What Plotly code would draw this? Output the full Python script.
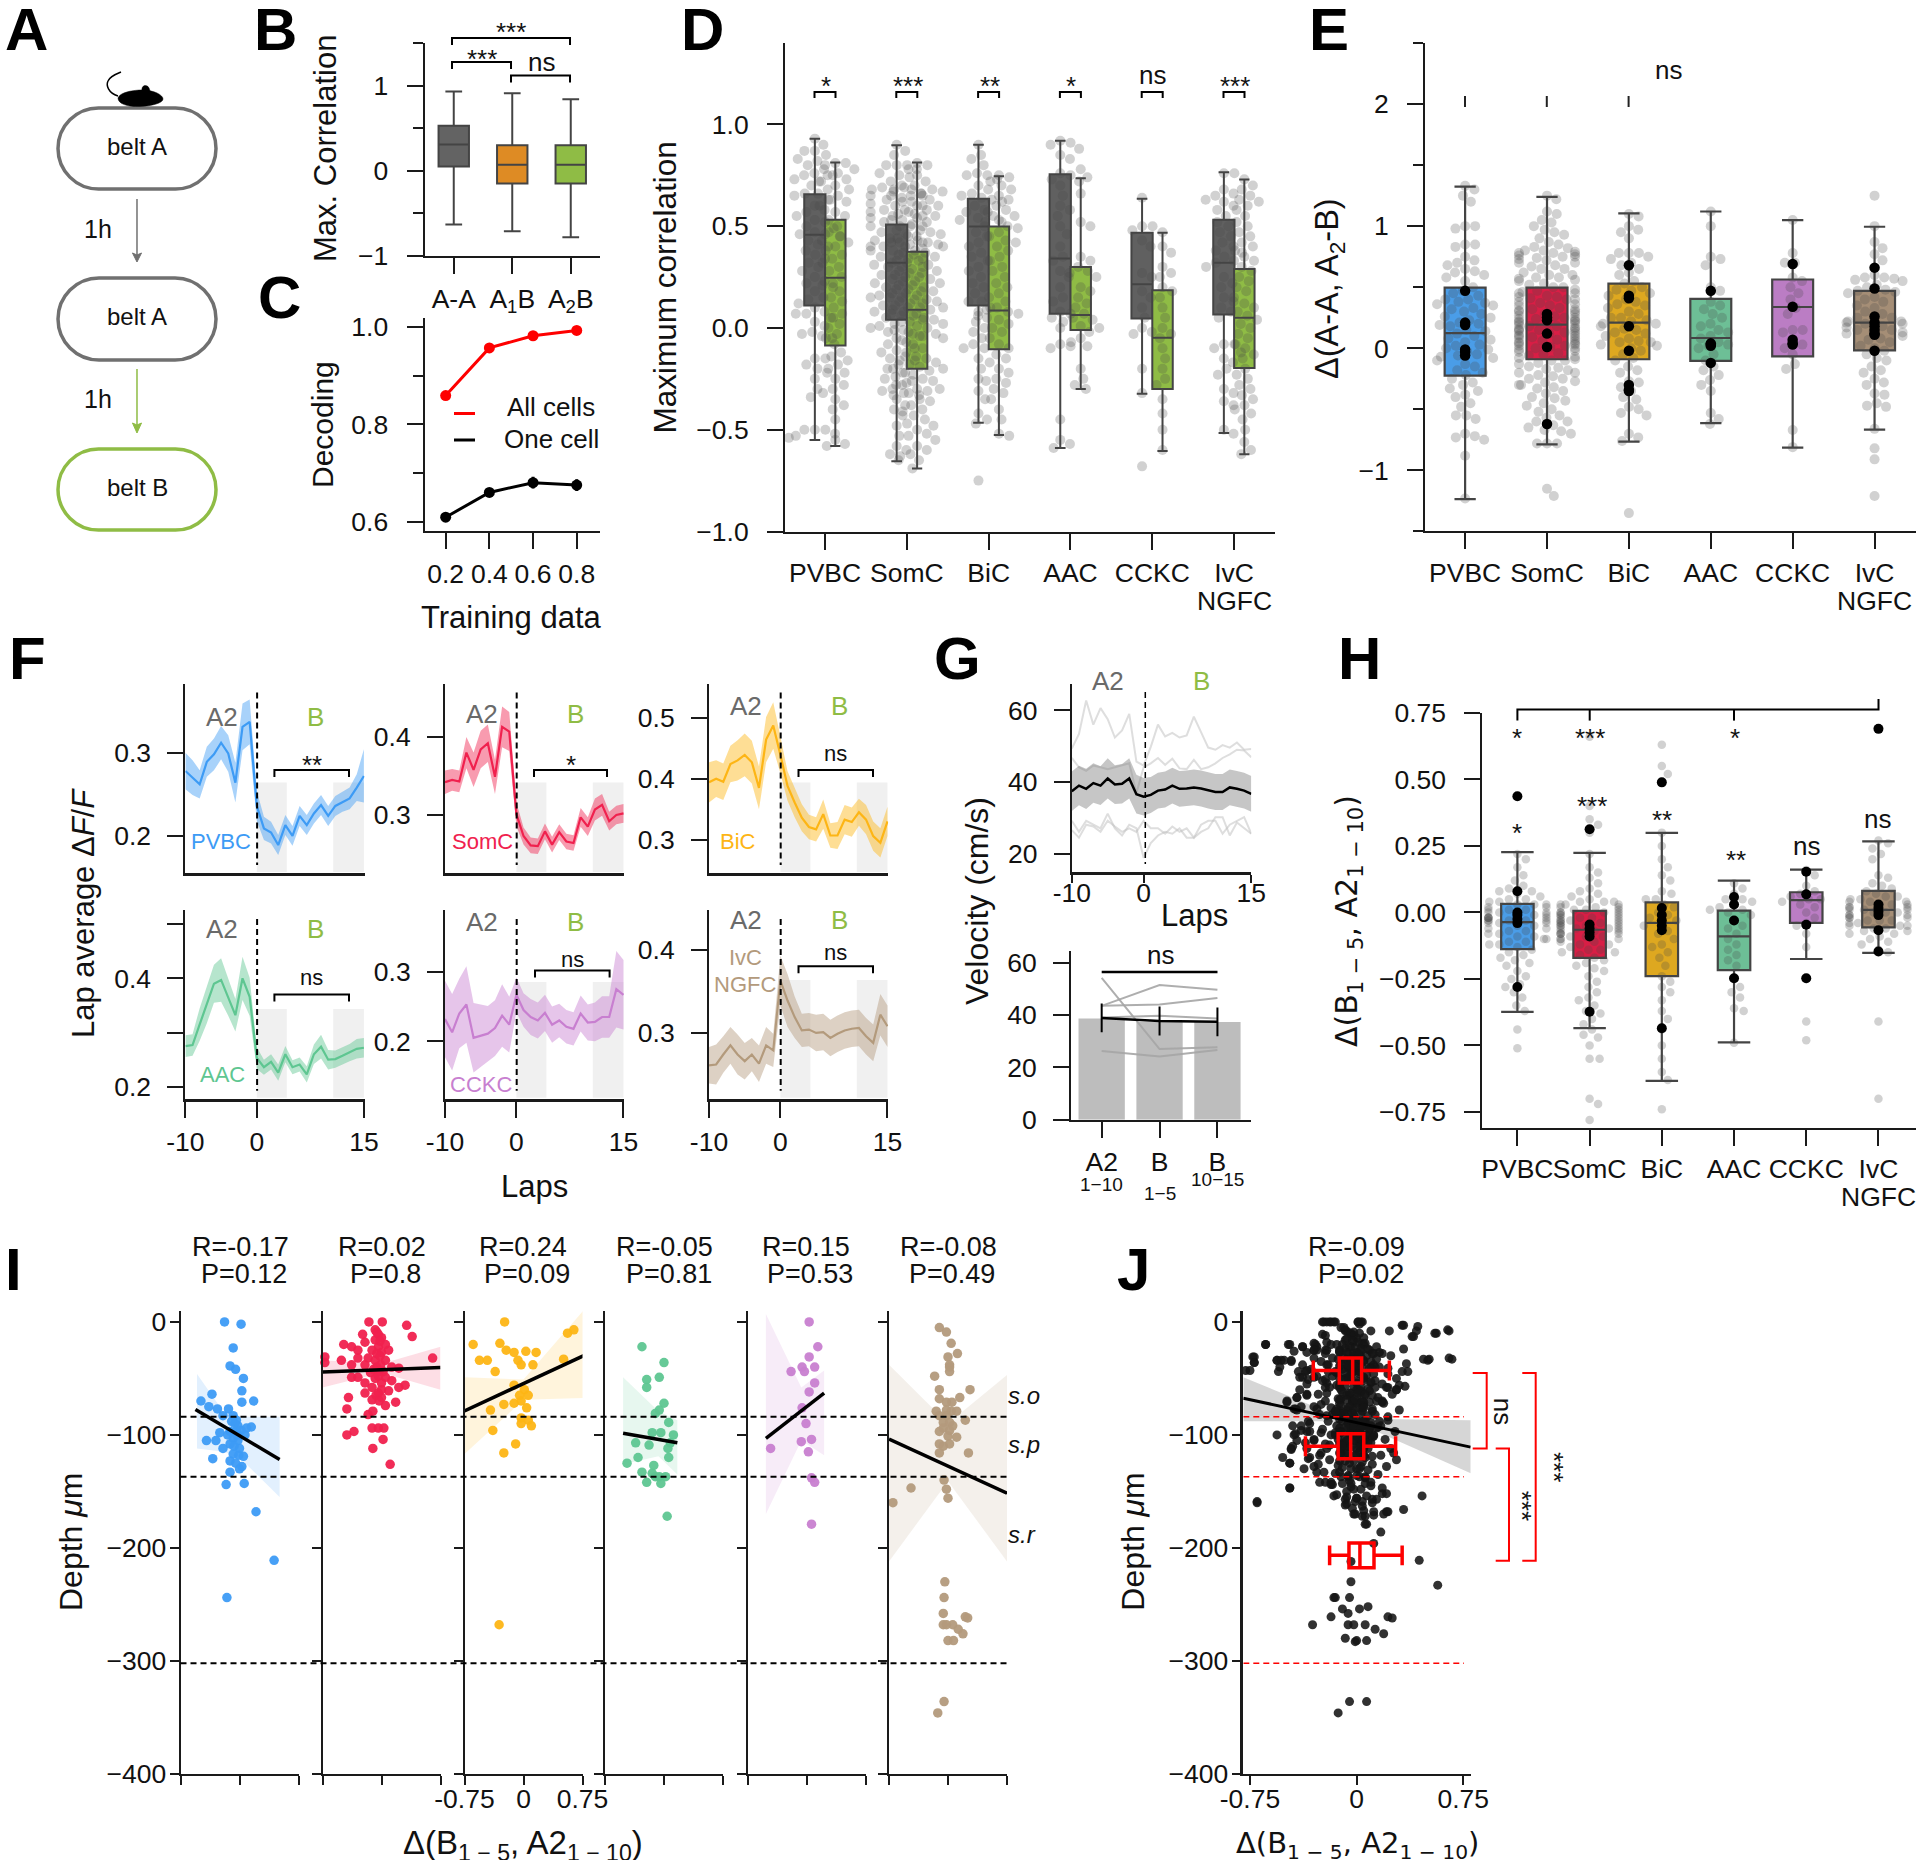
import re
import plotly.graph_objects as go

W, H = 1920, 1860
FONT = "Liberation Sans"
CELLS = ["PVBC", "SomC", "BiC", "AAC", "CCKC", "IvC"]
COL = ["#4a9de8", "#d81e45", "#dea820", "#6dbf96", "#bb7dc4", "#a58e76"]
LINE = ["#3d9bf5", "#f0214e", "#fdb515", "#5ec691", "#c87fd0", "#b39a7c"]
RGB = ["61,155,245", "240,33,78", "253,181,21", "94,198,145", "200,127,208", "179,154,124"]
GREY = "#6a6a6a"
GREEN = "#8fbc45"

# ---- B
B_CATS = ["A-A", "A<sub>1</sub>B", "A<sub>2</sub>B"]
B_STATS = [[-.63, .05, .31, .53, .93], [-.71, -.15, .07, .30, .91], [-.78, -.15, .07, .30, .84]]
B_COLS = ["#636363", "#de8b24", "#8fbc45"]
# ---- C
C_X = [.2, .4, .6, .8]
C_ALL = [.859, .957, .982, .993]
C_ONE = [.609, .660, .680, .675]
C_ONE_ERR = [.008, .009, .012, .012]
# ---- D (hundredths)
D_STATS_A = [[-.55, .11, .458, .657, .93], [-.655, .04, .32, .508, .898], [-.466, .11, .498, .635, .90],
             [-.59, .07, .341, .755, .92], [-.323, .046, .215, .468, .635], [-.516, .066, .32, .532, .765]]
D_STATS_B = [[-.58, -.086, .247, .532, .813], [-.69, -.2, .09, .375, .813], [-.526, -.104, .086, .498, .745],
             [-.30, -.01, .064, .30, .735], [-.604, -.30, -.048, .185, .468], [-.62, -.197, .05, .29, .729]]
D_PVBC_A = [93,90,87,87,85,83,82,80,78,76,75,75,73,72,70,68,66,66,65,63,60,58,57,55,53,52,50,49,47,46,46,45,43,41,40,38,36,34,32,30,28,25,23,22,20,18,15,14,12,10,8,7,7,5,3,1,-2,-3,-4,-5,-15,-15,-18,-20,-22,-25,-30,-34,-50,-50,-52,-53,-54,-50]
D_PVBC_B = [81,81,80,78,76,75,73,72,70,68,65,63,62,60,57,55,53,50,47,45,43,42,40,38,36,34,32,30,28,25,22,21,18,15,13,10,7,5,2,0,-3,-5,-8,-12,-14,-16,-18,-20,-22,-25,-28,-30,-32,-35,-38,-40,-45,-58,-57,-55]
D_SOMC_A = [90,87,85,80,80,80,78,76,75,74,72,70,69,68,68,67,66,65,65,64,63,62,61,60,60,58,58,57,56,55,55,54,53,52,51,50,50,48,47,46,45,44,43,42,42,41,40,40,39,38,38,37,36,35,34,33,32,31,30,30,28,27,26,25,24,23,22,21,20,19,18,17,16,15,15,14,13,12,11,10,9,8,7,6,5,4,3,2,1,0,-1,-2,-3,-4,-5,-7,-8,-10,-11,-12,-14,-15,-16,-18,-20,-22,-24,-25,-26,-28,-30,-31,-32,-33,-35,-38,-40,-43,-48,-53,-58,-60,-62,-65]
D_SOMC_B = [81,80,78,75,72,70,69,68,68,67,66,65,65,63,62,60,60,58,57,56,55,54,53,52,50,50,48,47,46,45,44,43,42,42,41,40,40,38,37,36,35,34,33,32,31,30,29,28,27,26,25,24,23,22,21,20,19,18,17,16,15,14,13,12,11,10,10,9,8,7,6,5,4,3,2,1,0,-1,-2,-3,-4,-5,-6,-8,-10,-12,-14,-15,-16,-17,-18,-19,-20,-20,-21,-22,-23,-25,-26,-27,-28,-30,-30,-31,-32,-33,-35,-36,-38,-40,-41,-43,-45,-47,-48,-50,-52,-53,-55,-58,-60,-62,-63,-65,-69]
D_BIC_A = [90,85,83,80,76,75,75,73,70,68,66,65,64,63,62,60,58,57,55,54,53,52,50,47,45,42,40,37,35,33,30,28,25,22,20,17,13,13,10,8,5,3,0,-2,-5,-8,-10,-10,-15,-20,-25,-31,-35,-42,-45,-47,-75]
D_BIC_B = [75,74,72,70,68,65,63,60,58,57,55,53,52,50,49,47,45,43,42,40,38,35,33,30,28,25,22,20,17,15,13,10,9,8,7,6,4,2,0,-2,-5,-8,-10,-13,-15,-17,-20,-22,-25,-26,-27,-30,-32,-35,-40,-45,-52,-53]
D_AAC_A = [92,91,90,88,85,83,76,75,73,72,70,65,60,58,55,50,46,40,35,33,28,25,20,15,13,8,7,5,0,-8,-9,-10,-45,-55,-57,-59]
D_AAC_B = [78,74,66,52,50,35,33,30,28,27,25,20,18,15,12,10,7,5,4,3,1,0,-2,-5,-7,-9,-20,-25,-28,-30]
D_CCKC_A = [64,50,50,48,43,40,27,25,18,15,10,5,0,-2,-3,-20,-32,-68]
D_CCKC_B = [47,40,37,30,27,25,20,18,15,10,5,0,-3,-5,-10,-15,-20,-25,-28,-35,-42,-50,-60]
D_IVC_A = [76,76,68,66,65,63,62,60,58,55,52,50,47,45,42,40,38,37,35,33,32,30,25,22,20,15,13,10,8,5,-8,-8,-10,-12,-15,-20,-23,-30,-32,-36,-38,-50,-52]
D_IVC_B = [73,70,68,65,63,62,60,58,55,52,50,47,45,42,40,38,35,33,30,28,25,23,20,18,15,12,10,8,6,4,2,0,-3,-5,-8,-10,-13,-15,-17,-20,-23,-25,-28,-30,-33,-35,-38,-40,-42,-45,-50,-56,-60,-62]
D_SIG = ["*", "***", "**", "*", "ns", "***"]
# ---- E
E_STATS = [[-1.236, -.224, .124, .496, 1.323], [-.787, -.09, .194, .496, 1.24], [-.764, -.09, .21, .53, 1.105],
           [-.613, -.104, .084, .405, 1.12], [-.814, -.067, .338, .563, 1.05], [-.667, -.017, .21, .47, .995]]
E_PVBC = [133,130,125,120,100,100,98,85,85,83,75,72,70,68,65,63,62,60,58,55,50,47,45,43,40,40,38,37,36,35,33,32,30,28,26,25,23,21,20,19,18,15,14,12,10,8,7,5,3,2,0,-1,-3,-5,-6,-7,-8,-10,-13,-15,-18,-20,-22,-25,-28,-30,-33,-35,-38,-40,-45,-48,-55,-55,-58,-70,-72,-73,-75,-88,-123]
E_SOMC = [125,122,112,110,105,103,100,97,95,93,90,87,85,83,82,80,80,79,78,78,77,76,75,75,74,73,72,70,70,68,67,65,65,62,60,60,58,58,57,56,55,53,52,50,50,48,47,46,45,45,43,42,42,41,40,40,38,37,36,35,35,33,32,32,31,30,30,28,28,27,26,25,25,24,24,23,22,22,21,20,20,19,18,18,17,16,16,15,15,14,14,13,12,12,11,10,10,9,8,8,7,6,6,5,4,4,3,2,2,1,0,0,-1,-2,-3,-4,-5,-6,-7,-8,-9,-10,-10,-12,-13,-15,-16,-17,-18,-20,-20,-22,-23,-25,-25,-27,-28,-30,-30,-32,-33,-35,-37,-40,-41,-43,-45,-47,-50,-52,-55,-57,-60,-60,-63,-65,-67,-68,-70,-78,-78,-78,-115,-121]
E_BIC = [110,108,100,97,95,90,78,78,78,75,73,70,68,65,62,60,55,53,50,48,47,45,43,40,38,36,35,33,30,28,25,25,23,22,20,20,18,16,15,13,12,10,8,6,5,5,3,2,0,-2,-5,-8,-10,-15,-18,-20,-27,-28,-32,-35,-40,-42,-48,-50,-53,-55,-70,-73,-76,-135]
E_AAC = [112,100,75,73,68,50,47,38,35,32,28,25,20,18,15,13,10,8,5,3,2,0,-5,-10,-15,-18,-22,-26,-30,-35,-53,-58,-62]
E_CCKC = [105,78,70,70,58,55,50,45,40,33,28,15,13,15,5,3,0,-5,-13,-17,-67,-81]
E_IVC = [125,100,87,82,77,72,60,58,58,57,56,55,52,50,48,47,46,45,42,40,38,35,33,30,28,25,25,23,22,22,21,20,20,18,17,15,15,14,13,12,10,8,7,5,2,0,-2,-5,-8,-10,-15,-18,-20,-25,-28,-30,-37,-38,-45,-47,-48,-66,-82,-91,-121]
E_BLACK = [[.47,.21,.19,-.01,-.03,-.06], [.28,.25,.23,.12,.01,-.62], [.68,.43,.41,.18,-.02,-.30,-.34,-.35],
           [.47,.04,.03,.02,-.12], [.69,.34,.07,.04,.03], [.66,.49,.26,.21,.18,.15,.12,.11,-.02]]
# ---- F
LAPS = list(range(-10, 16))
F_MEAN = [
 [.278,.270,.262,.289,.298,.312,.299,.264,.331,.337,.236,.209,.204,.189,.213,.200,.224,.213,.227,.237,.224,.236,.241,.245,.258,.272],
 [.342,.345,.343,.380,.358,.384,.392,.349,.413,.407,.301,.273,.261,.260,.279,.262,.278,.266,.264,.297,.285,.307,.313,.292,.300,.302],
 [.394,.400,.395,.424,.430,.439,.427,.385,.464,.487,.439,.388,.361,.336,.321,.317,.342,.307,.307,.333,.329,.345,.333,.306,.295,.330],
 [.275,.277,.315,.352,.390,.397,.366,.332,.400,.366,.253,.236,.246,.226,.260,.236,.241,.223,.260,.274,.250,.251,.257,.263,.270,.272],
 [.232,.213,.240,.253,.205,.208,.211,.219,.237,.224,.267,.245,.235,.230,.241,.224,.230,.221,.218,.240,.227,.228,.235,.235,.275,.267],
 [.261,.262,.274,.285,.274,.266,.274,.263,.285,.279,.363,.339,.319,.303,.304,.300,.301,.294,.299,.303,.305,.306,.296,.288,.322,.308]]
F_SEM = [
 [.022,.021,.017,.018,.019,.02,.022,.024,.028,.027,.018,.014,.013,.012,.012,.012,.012,.012,.012,.012,.012,.012,.012,.013,.016,.032],
 [.015,.014,.014,.02,.022,.024,.024,.022,.026,.025,.015,.011,.01,.01,.01,.01,.01,.01,.01,.012,.012,.014,.014,.012,.012,.012],
 [.033,.03,.03,.03,.033,.035,.035,.035,.037,.038,.03,.024,.024,.022,.02,.02,.024,.02,.022,.024,.024,.022,.024,.024,.024,.024],
 [.02,.02,.03,.035,.035,.04,.035,.03,.04,.035,.02,.014,.014,.015,.015,.013,.013,.015,.018,.022,.018,.016,.016,.016,.018,.018],
 [.055,.055,.05,.055,.05,.045,.04,.04,.045,.04,.025,.024,.026,.026,.026,.026,.024,.024,.024,.026,.026,.028,.03,.03,.055,.05],
 [.022,.024,.022,.022,.024,.022,.02,.022,.022,.02,.03,.032,.025,.02,.02,.022,.022,.022,.022,.022,.022,.022,.022,.022,.025,.025]]
F_YR = [[.1554,.383],[.2256,.4685],[.2456,.5557],[.178,.526],[.1174,.389],[.2208,.448]]
F_YT = [[.2,.3],[.3,.4],[.3,.4,.5],[.2,.4],[.2,.3],[.3,.4]]
F_YM = [None,None,None,[.3,.5],None,None]
F_SIG = ["**","*","ns","ns","ns","ns"]
# ---- G
G_MEAN = [37.4,39,38.1,39.7,39,41,39.3,39.5,41,36.6,35.9,36.4,37.6,37.9,39,38.1,38.2,38.5,38.2,37.6,37.2,37.2,38.5,38.1,37.6,36.7]
G_SEM = [5.5,5.5,5.6,5.5,5.4,5.6,5.4,5.5,5.6,5.4,5.2,5,5,5,5,5,5,5,5,5,5,5,5,5,5,5]
G_T1 = [49.3,53.4,62.7,56,60.6,57.5,52.4,54.4,59,45.7,44.6,49.8,56,52.7,53.7,52.4,53,58.2,53.9,49.6,49,50.3,49.6,51,49,49.2]
G_T2 = [46.7,44.1,43.1,44.6,44.1,43.6,44.1,44.6,45.2,36.9,44.1,45.2,46.7,44.8,46.5,43.8,43.6,46.2,43.6,44.1,45.2,46.7,47.7,49,48.8,46.9]
G_T3 = [29.2,26.1,29.2,28.1,27.1,31.2,27.1,25.1,28.1,27.1,18.9,23,25.1,26.1,25.6,27.1,24.5,24.5,26.1,27.1,30.2,30.2,25.1,28.7,27.1,25.6]
G_T4 = [26.6,24.5,28.1,27.6,26.1,29.2,27.6,26.1,27.1,26.1,29.2,27.1,27.1,25.6,27.6,26.1,27.1,24.5,28.1,29.2,29.2,25.6,28.1,29.2,30.2,25.6]
G_BAR = [38.7, 37.3, 37.3]
G_BAR_MEAN = [38.9, 37.7, 37.4]
G_BAR_ERR = [5.5, 5.5, 5.5]
G_MICE = [[54.2,27,27.7],[43.5,51.4,49.6],[43.5,44,46.5],[26.3,24.2,26.6],[39,39.7,38.7]]
# ---- H
H_STATS = [[-.374,-.138,-.036,.032,.227],[-.435,-.171,-.065,.006,.224],[-.633,-.239,-.039,.038,.299],
           [-.488,-.217,-.09,.007,.12],[-.175,-.039,.046,.076,.161],[-.152,-.056,.01,.081,.267]]
H_PVBC = [22,20,17,14,12,10,9,8,8,7,6,5,4,4,3,3,2,2,1,1,0,0,0,-1,-1,-2,-2,-2,-3,-3,-3,-3,-4,-4,-5,-5,-6,-7,-7,-8,-9,-10,-11,-11,-12,-12,-13,-14,-15,-16,-17,-18,-19,-20,-22,-24,-25,-27,-28,-30,-32,-35,-37,-44,-51,-2,-3,-1,-4,-6,-8,1,3,5,-9,-10,-2]
H_SOMC = [66,40,35,33,30,22,17,15,13,11,9,8,7,6,5,4,4,3,3,2,2,1,1,0,0,0,-1,-1,-2,-2,-2,-3,-3,-3,-4,-4,-5,-5,-5,-6,-6,-7,-7,-8,-8,-9,-9,-10,-10,-11,-12,-13,-14,-15,-15,-16,-17,-18,-19,-20,-21,-22,-24,-26,-28,-30,-32,-33,-35,-37,-38,-40,-42,-44,-46,-47,-50,-55,-55,-70,-72,-78,-3,-4,-5,-6,-7,-8,-9,-2,-1,-10,-11,-12,0,1,2,-4,-6,-8,3,4,-14]
H_BIC = [63,55,52,30,25,20,17,14,12,8,7,5,5,3,2,0,-1,-2,-3,-4,-5,-7,-8,-10,-12,-13,-15,-17,-20,-24,-26,-28,-30,-33,-37,-40,-44,-50,-55,-60,-63,-74]
H_AAC = [11,9,7,5,5,4,3,2,1,1,0,-1,-3,-5,-6,-8,-10,-12,-14,-16,-18,-20,-25,-28,-30,-32,-36,-37,-49]
H_CCKC = [16,14,10,8,7,6,5,5,4,3,2,0,-2,-4,-5,-8,-13,-25,-41,-48]
H_IVC = [27,26,24,22,20,14,13,11,10,9,8,7,6,6,5,5,4,4,3,3,2,2,1,1,0,0,-1,-1,-2,-2,-3,-3,-4,-5,-5,-6,-7,-8,-9,-10,-11,-12,-14,-15,-41,-70,0,-1,-3,-2,1,2,-4,-6,-5,-7,-8,3,4]
H_BLACK = [[.437,.08,0,-.01,-.025,-.04,-.28],[.313,-.045,-.06,-.075,-.09,-.373],[.489,.017,-.01,-.03,-.05,-.067,-.435],
           [.058,.03,-.03,-.247],[.153,.068,-.046,-.247],[.69,.03,.017,.003,-.01,-.067,-.147]]
# ---- I (x in hundredths, depth in um)
I_PVBC = [(-19,0),(2,-2),(-8,-23),(-12,-39),(-5,-42),(5,-50),(3,-61),(-35,-64),(-49,-70),(-39,-75),(-28,-77),(-14,-77),(18,-70),(3,-71),(-21,-83),(-8,-83),(-4,-87),(-2,-92),(15,-93),(9,-94),(-12,-97),(-4,-97),(-25,-98),(-42,-105),(-30,-105),(-8,-103),(-2,-105),(-12,-108),(-21,-112),(0,-112),(-8,-117),(-34,-121),(-12,-123),(5,-119),(3,-128),(-12,-133),(0,-130),(-17,-144),(6,-143),(21,-168),(44,-211),(-16,-244),(-6,-90),(-3,-100),(-10,-88),(2,-96),(-7,-110),(-15,-100),(7,-100),(-1,-118),(-5,-125)]
I_SOMC = [(-16,0),(1,0),(32,-3),(39,-13),(-24,-11),(-72,-31),(-72,-36),(-48,-20),(-38,-22),(-30,-25),(-21,-18),(-8,-7),(-4,-11),(0,-14),(-8,-16),(-4,-22),(5,-20),(-12,-25),(0,-27),(9,-25),(-17,-32),(-30,-32),(-51,-34),(-38,-38),(-21,-38),(-8,-34),(5,-34),(13,-40),(22,-41),(65,-32),(30,-56),(22,-58),(13,-52),(-38,-49),(-30,-49),(-14,-45),(-8,-50),(5,-49),(-21,-54),(-12,-58),(0,-54),(9,-61),(-4,-63),(-21,-63),(-42,-67),(-12,-69),(0,-67),(18,-71),(5,-74),(-44,-77),(-17,-82),(-11,-79),(-35,-97),(-44,-100),(-12,-94),(-4,-94),(3,-94),(2,-104),(-11,-112),(11,-126),(-6,-9),(-2,-17),(-6,-28),(-2,-30),(-6,-40),(-3,-44),(-1,-38),(-10,-42),(2,-44),(-4,-48),(0,-60),(-7,-65),(-3,-70)]
I_BIC = [(-24,0),(-64,-20),(-30,-19),(-56,-34),(-46,-34),(-22,-25),(-12,-27),(3,-26),(16,-27),(-7,-34),(-3,-38),(12,-38),(-36,-44),(56,-10),(64,-7),(51,-33),(-12,-56),(1,-60),(6,-65),(-5,-65),(-25,-73),(-12,-72),(-3,-70),(4,-76),(-42,-78),(-3,-85),(6,-87),(10,-92),(-3,-90),(-39,-96),(-10,-108),(-25,-116),(-31,-268),(-78,-43)]
I_AAC = [(-28,-22),(0,-36),(-22,-51),(-22,-58),(-6,-49),(0,-72),(-6,-78),(-11,-81),(6,-89),(-15,-98),(-4,-98),(12,-100),(-36,-107),(-19,-109),(8,-107),(5,-112),(-33,-120),(6,-120),(-13,-127),(-47,-125),(-28,-133),(-15,-134),(2,-137),(-22,-142),(-4,-143),(4,-172),(-6,-137),(-11,-137)]
I_CCKC = [(3,0),(14,-22),(3,-31),(-20,-44),(-6,-40),(-3,-44),(10,-40),(10,-54),(3,-62),(-6,-76),(-1,-90),(-7,-106),(6,-104),(-46,-112),(2,-115),(6,-138),(10,-142),(6,-179)]
I_IVC = [(-11,-5),(-2,-9),(4,-19),(0,-31),(12,-28),(2,-38),(2,-40),(2,-44),(-17,-48),(28,-60),(-11,-60),(-11,-68),(15,-67),(-2,-71),(5,-71),(-15,-79),(-2,-78),(4,-79),(-11,-83),(-2,-83),(11,-79),(-6,-89),(2,-89),(22,-87),(6,-92),(-6,-94),(2,-96),(-11,-97),(0,-101),(11,-102),(-11,-108),(2,-108),(-6,-110),(-11,-116),(26,-116),(-5,-140),(-2,-148),(0,-156),(-47,-147),(-70,-160),(-4,-230),(-5,-244),(-6,-258),(22,-261),(25,-262),(-6,-268),(6,-268),(-2,-268),(13,-272),(19,-276),(0,-282),(7,-282),(-5,-336),(-13,-346)]
I_POINTS = [I_PVBC, I_SOMC, I_BIC, I_AAC, I_CCKC, I_IVC]
I_FIT_X = [[-.56,.51],[-.75,.75],[-.75,.887],[-.52,.17],[-.52,.22],[-.75,.75]]
I_FIT_Y = [[-77.6,-121.7],[-44.4,-40.4],[-78.7,-26],[-98.6,-107],[-103,-63],[-103.6,-151.6]]
I_CI_X = [[-.54,-.2,0,.51],[-.75,0,.75],[-.75,0,.887],[-.52,-.07,.17],[-.52,-.07,.22],[-.75,0,.75]]
I_CI_UP = [[-46,-80,-84,-84],[-34,-37,-22],[-49,-51,20],[-49,-79,-87],[7,-58,-43],[-38,-90,-47]]
I_CI_LO = [[-112,-115,-120,-155],[-58,-45,-60],[-117,-69,-67],[-126,-119,-135],[-170,-105,-118],[-212,-141,-212]]
I_STATS = [("R=-0.17","P=0.12"),("R=0.02","P=0.8"),("R=0.24","P=0.09"),("R=-0.05","P=0.81"),("R=0.15","P=0.53"),("R=-0.08","P=0.49")]
LAYER_DEPTHS = [-84, -137, -302]
# ---- J
J_OUTER = [(-23,0),(-21,0),(-18,0),(-15,0),(1,0),(4,0),(-22,-12),(-9,-5),(10,-8),(23,-8),(33,-3),(43,-4),(42,-8),(40,-13),(55,-10),(65,-8),(33,-24),(47,-33),(50,-34),(67,-33),(35,-37),(36,-44),(32,-44),(34,-57),(28,-60),(21,-58),(-64,-20),(-73,-31),(-72,-36),(-75,-43),(-56,-34),(-53,-34),(-54,-40),(-55,-44),(-47,-20),(-44,-26),(-46,-35),(-38,-22),(-35,-27),(-29,-20),(-28,-25),(-21,-25),(-14,-20),(-41,-44),(-35,-43),(-40,-49),(-34,-51),(-40,-60),(-42,-67),(-35,-65),(-49,-71),(-43,-77),(-34,-88),(-39,-92),(-43,-99),(-56,-100),(-45,-110),(-46,-113),(-52,-120),(-47,-125),(-37,-130),(-45,-92),(-33,-97),(-27,-126),(-47,-147),(-70,-159),(-26,-142),(-18,-144),(-16,-154),(-7,-150),(-8,-157),(-1,-159),(-7,-161),(4,-159),(11,-157),(18,-152),(21,-152),(46,-154),(33,-166),(-2,-170),(5,-167),(12,-171),(19,-170),(22,-168),(7,-179),(17,-186),(12,-196),(-4,-212),(57,-233),(-15,-244),(-10,-254),(2,-254),(8,-252),(-18,-261),(-1,-283),(-8,-280),(7,-336)]
J_CORE = [(-8,-8),(-4,-10),(-2,-12),(2,-10),(5,-14),(-7,-15),(-3,-17),(1,-18),(6,-19),(-10,-20),(-5,-22),(-1,-23),(3,-24),(8,-24),(-12,-26),(-7,-27),(-2,-28),(2,-29),(7,-30),(11,-28),(-13,-33),(-9,-32),(-4,-33),(0,-34),(5,-35),(10,-35),(14,-33),(-11,-38),(-6,-39),(-1,-40),(4,-40),(9,-41),(-15,-44),(-9,-45),(-3,-45),(2,-46),(7,-47),(12,-46),(-12,-50),(-6,-51),(0,-52),(5,-52),(10,-53),(-14,-56),(-8,-57),(-2,-57),(3,-58),(8,-59),(13,-58),(-10,-62),(-5,-63),(1,-63),(6,-64),(11,-65),(-13,-68),(-7,-69),(-1,-69),(4,-70),(9,-71),(14,-70),(-11,-74),(-5,-75),(0,-76),(5,-76),(11,-77),(-15,-80),(-9,-81),(-3,-81),(3,-82),(8,-83),(13,-82),(-12,-86),(-6,-87),(0,-87),(5,-88),(10,-89),(16,-88),(-14,-92),(-8,-93),(-2,-93),(3,-94),(9,-95),(14,-94),(-11,-98),(-5,-99),(1,-99),(6,-100),(12,-101),(-13,-104),(-7,-105),(-1,-105),(4,-106),(10,-107),(-10,-110),(-4,-111),(2,-111),(8,-112),(-12,-116),(-6,-117),(0,-117),(5,-118),(11,-119),(-8,-123),(-2,-123),(4,-124),(-10,-129),(-4,-130),(2,-130),(8,-131),(-6,-136),(0,-136),(6,-137)]
J_MID = [(-30,-25),(-22,-28),(-18,-20),(-25,-35),(-20,-38),(-32,-42),(-28,-48),(-24,-52),(-35,-55),(-19,-58),(-27,-64),(-22,-70),(-30,-75),(-18,-76),(-26,-82),(-20,-88),(-33,-90),(-24,-95),(-18,-100),(-30,-104),(-22,-108),(-35,-112),(-26,-118),(-19,-122),(-30,-128),(-23,-133),(18,-28),(24,-30),(16,-40),(22,-46),(28,-50),(18,-55),(25,-64),(19,-72),(30,-78),(22,-84),(17,-92),(27,-97),(20,-104),(24,-112),(17,-118),(28,-122),(21,-128),(15,-135),(-18,-142),(-10,-143),(-4,-146),(3,-148),(10,-145),(18,-147),(-14,-153),(-7,-155),(0,-156),(7,-154),(14,-157),(-8,-162),(-3,-165),(4,-163),(11,-160),(-1,-170),(6,-172),(12,-168)]
J_FIT_X = [-.797, .802]
J_FIT_Y = [-67.5, -110.8]
J_CI_X = [-.797, -.2, .14, .802]
J_CI_UP = [-49, -80, -86, -87]
J_CI_LO = [-88, -88, -97, -134]
J_BOX_Y = [-43, -110, -206.6]
J_BOX = [[-.305,-.122,-.028,.035,.23],[-.36,-.13,-.042,.05,.274],[-.19,-.054,.023,.122,.32]]

fig = go.Figure()
layout = {}
shapes, notes = [], []
_n = [1]


def axes(x0, x1, ytop, ybot, xr, yr, xt=None, xl=None, yt=None, yl=None, xlen=16, ylen=16,
         xw=2, yw=2, xs=1, ys=13, xminor=None, yminor=None, visible=True, size=26.5, mlen=10):
    _n[0] += 1
    n = _n[0]
    def ax(dom, rng, tv, tl, ln, lw, st, minor, other):
        d = dict(domain=dom, range=rng, anchor=other, showgrid=False, zeroline=False, fixedrange=True,
                 automargin=False, tickangle=0, visible=visible, showline=True, linecolor="#1a1a1a", linewidth=lw,
                 tickfont=dict(family=FONT, size=size, color="#111"), tickcolor="#1a1a1a", tickwidth=2,
                 ticklabelstandoff=st, showticklabels=bool(tl))
        if tv:
            d.update(tickmode="array", tickvals=tv, ticks="outside", ticklen=ln)
            if tl:
                d["ticktext"] = tl
        else:
            d.update(tickmode="array", tickvals=[], ticks="")
        if minor:
            d["minor"] = dict(tickmode="array", tickvals=minor, ticks="outside", ticklen=mlen, tickwidth=2, tickcolor="#1a1a1a", showgrid=False)
        return d
    layout[f"xaxis{n}"] = ax([x0 / W, x1 / W], xr, xt, xl, xlen, xw, xs, xminor, f"y{n}")
    layout[f"yaxis{n}"] = ax([1 - ybot / H, 1 - ytop / H], yr, yt, yl, ylen, yw, ys, yminor, f"x{n}")
    return dict(xaxis=f"x{n}", yaxis=f"y{n}")


def px(x, y):
    return f"{x / W:.5f},{1 - y / H:.5f}"


def svg(d):
    toks = re.findall(r"[A-Za-z]|-?[\d.]+", d)
    out, i = [], 0
    while i < len(toks):
        if toks[i].isalpha():
            out.append(toks[i]); i += 1
        else:
            out.append(px(float(toks[i]), float(toks[i + 1]))); i += 2
    return " ".join(out)


def path(d, color="black", lw=2, fill=None, dash=None, layer="above"):
    s = dict(type="path", xref="paper", yref="paper", path=svg(d), layer=layer,
             line=dict(color=color, width=lw, dash=dash) if lw else dict(width=0))
    if fill:
        s["fillcolor"] = fill
    shapes.append(s)


def bracket(x0, x1, y, drop=7, color="black", lw=2):
    path(f"M {x0} {y + drop} L {x0} {y} L {x1} {y} L {x1} {y + drop}", color, lw)


def T(x, y, text, size=26, color="#111", angle=0, bold=False, fam=FONT):
    notes.append(dict(xref="paper", yref="paper", x=x / W, y=1 - y / H, text=f"<b>{text}</b>" if bold else text,
                      showarrow=False, xanchor="center", yanchor="middle", textangle=angle,
                      font=dict(family=fam, size=size, color=color)))


def box(ax, pos, st, width, color, lw=2, line="#444", ww=.55, horiz=False):
    k = dict(y=[pos], orientation="h") if horiz else dict(x=[pos])
    fig.add_trace(go.Box(**ax, **k, lowerfence=[st[0]], q1=[st[1]], median=[st[2]], q3=[st[3]], upperfence=[st[4]],
                         width=width, whiskerwidth=ww, fillcolor=color, line=dict(color=line, width=lw),
                         boxpoints=False, hoverinfo="skip"))


def swarm(vals, center, ppx, ppy, d, maxw):
    placed, xs, ys = [], [], []
    for v in sorted(vals, reverse=True):
        yp = v * ppy
        near = [(o, yy) for o, yy in placed if abs(yy - yp) < d]
        cands = [0.0]
        for o, yy in near:
            w = (d * d - (yy - yp) ** 2) ** .5
            cands += [o + w, o - w]
        cands.sort(key=abs)
        best = None
        for c in cands:
            if all((c - o) ** 2 + (yy - yp) ** 2 >= d * d - 1e-6 for o, yy in near):
                best = c
                break
        if best is None:
            best = 0.0
        best = max(-maxw, min(maxw, best))
        placed.append((best, yp))
        xs.append(center + best / ppx)
        ys.append(v)
    return xs, ys


def pts(ax, x, y, size, color, line=False):
    fig.add_trace(go.Scatter(**ax, x=x, y=y, mode="markers", cliponaxis=False, hoverinfo="skip",
                             marker=dict(size=size, color=color, line=dict(width=0))))


def ln(ax, x, y, color, width, dash=None, mode="lines", msize=None, err=None):
    k = {}
    if msize:
        k["marker"] = dict(size=msize, color=color)
    if err:
        k["error_y"] = dict(type="data", array=err, color=color, thickness=width, width=0)
    fig.add_trace(go.Scatter(**ax, x=x, y=y, mode=mode, cliponaxis=False, hoverinfo="skip",
                             line=dict(color=color, width=width, dash=dash), **k))


def band(ax, x, up, lo, color):
    fig.add_trace(go.Scatter(**ax, x=list(x) + list(x)[::-1], y=list(up) + list(lo)[::-1], mode="lines",
                             fill="toself", fillcolor=color, line=dict(width=0), cliponaxis=False, hoverinfo="skip"))


# ---------------- letters
for t, x, y in [("A",26,30),("B",275,30),("C",279,298),("D",702,29),("E",1329,29),("F",27,659),("G",957,659),("H",1359,659),("I",13,1269),("J",1133,1269)]:
    T(x, y, t, 60, "black", bold=True)

# ---------------- A (schematic)
def stadium(x0, y0, x1, y1, color):
    r = (y1 - y0) / 2
    k = r * .5523
    path(f"M {x0+r} {y0} L {x1-r} {y0} C {x1-r+k} {y0} {x1} {y0+r-k} {x1} {y0+r} C {x1} {y0+r+k} {x1-r+k} {y1} {x1-r} {y1} "
         f"L {x0+r} {y1} C {x0+r-k} {y1} {x0} {y0+r+k} {x0} {y0+r} C {x0} {y0+r-k} {x0+r-k} {y0} {x0+r} {y0} Z", color, 3.5)

stadium(58, 108, 216, 189, "#707070")
stadium(58, 278, 216, 360, "#707070")
stadium(58, 449, 216, 530, GREEN)
T(137, 146, "belt A", 24); T(137, 316, "belt A", 24); T(137, 487, "belt B", 24)
T(98, 229, "1h", 25); T(98, 399, "1h", 25)
path("M 137 199 L 137 256", "#707070", 1.5)
path("M 132.5 253 L 137 262 L 141.5 253 L 137 255 Z", "#707070", 1, "#707070")
path("M 137 369 L 137 427", GREEN, 1.5)
path("M 132.5 423 L 137 433 L 141.5 423 L 137 425 Z", GREEN, 1, GREEN)
path("M 118 98 C 120 92 134 90 142 90 C 154 90 163 95 163 99 C 163 103 152 106 140 106.5 C 128 107 118 104 118 98 Z", "black", 0.5, "black")
path("M 142 91 C 141 85 147 84 149 88 C 150 90 150 92 150 93 Z", "black", 0.5, "black")
path("M 118 96 C 108 93 106 85 108 81 C 110 76 116 74 121 72", "black", 1.5)

# ---------------- B
ab = axes(424.5, 600, 43, 256, [-.5, 2.5], [-1, 1.5], [0, 1, 2], B_CATS, [-1, 0, 1], ["−1", "0", "1"], xs=2, yminor=[-.5, .5, 1.5])
for i in range(3):
    box(ab, i, B_STATS[i], .52, B_COLS[i])
T(326, 149, "Max. Correlation", 31, angle=-90)
bracket(452, 570, 38); T(511, 32, "***", 26)
bracket(452, 511, 62); T(482, 59, "***", 26)
bracket(511, 570, 75.5); T(541.5, 62, "ns", 26)

# ---------------- C
ac = axes(424.5, 600, 318, 531, [.103, .9066], [.5807, 1.0185], C_X, ["0.2", "0.4", "0.6", "0.8"], [.6, .8, 1.0], ["0.6", "0.8", "1.0"], xs=2, yminor=[.7, .9])
ln(ac, C_X, C_ALL, "#fe0000", 3, mode="lines+markers", msize=11)
ln(ac, C_X, C_ONE, "black", 3, mode="lines+markers", msize=11, err=C_ONE_ERR)
path("M 454 413.5 L 475 413.5", "#fe0000", 3)
path("M 454 440 L 475 440", "black", 3)
T(551, 407, "All cells", 26); T(551, 439, "One cell", 26)
T(322, 425, "Decoding", 30, angle=-90)
T(511, 617, "Training data", 31)

# ---------------- D
ad = axes(785, 1275, 43, 531.5, [-.49, 5.5], [-1, 1.4], list(range(6)), CELLS, [-1, -.5, 0, .5, 1], ["−1.0", "−0.5", "0.0", "0.5", "1.0"])
D_A = [D_PVBC_A, D_SOMC_A, D_BIC_A, D_AAC_A, D_CCKC_A, D_IVC_A]
D_B = [D_PVBC_B, D_SOMC_B, D_BIC_B, D_AAC_B, D_CCKC_B, D_IVC_B]
PT = "rgba(70,70,70,0.25)"
for i in range(6):
    box(ad, i - .125, D_STATS_A[i], .26, "#606060", ww=.5)
    box(ad, i + .125, D_STATS_B[i], .25, GREEN, ww=.5)
for i in range(6):
    for c, vals in ((i - .125, D_A[i]), (i + .125, D_B[i])):
        x, y = swarm([v / 100 for v in vals], c, 81.8, 203.5, 10.5, 26)
        pts(ad, x, y, 10, PT)
    cx = 825 + i * 81.8
    bracket(cx - 10.5, cx + 10.5, 92, 6)
    if D_SIG[i] == "ns":
        T(cx, 75, "ns", 26)
    else:
        T(cx + 1, 86, D_SIG[i], 26)
T(1234, 601, "NGFC", 26.5)
T(664.5, 288, "Maximum correlation", 31.5, angle=-90)

# ---------------- E
ae = axes(1425, 1915.5, 43, 531.4, [-.49, 5.5], [-1.5, 2.5], list(range(6)), CELLS, [-1, 0, 1, 2], ["−1", "0", "1", "2"], yminor=[-1.5, -.5, .5, 1.5, 2.5])
E_ALL = [E_PVBC, E_SOMC, E_BIC, E_AAC, E_CCKC, E_IVC]
for i in range(6):
    box(ae, i, E_STATS[i], .5, COL[i], lw=2.2, ww=.52)
for i in range(6):
    x, y = swarm([v / 100 for v in E_ALL[i]], i, 81.8, 122, 10, 28)
    pts(ae, x, y, 10, PT)
    pts(ae, [i] * len(E_BLACK[i]), E_BLACK[i], 10.5, "black")
for i in range(3):
    path(f"M {1465 + i * 81.8} 96 L {1465 + i * 81.8} 107", "#222", 2)
T(1668, 70, "ns", 26)
T(1874, 601, "NGFC", 26.5)
T(1329, 289, "Δ(A-A, A<sub>2</sub>-B)", 32.5, angle=-90)

# ---------------- F
F_X = [185.4, 445, 709]
F_Y = [(683.6, 873), (910, 1098.7)]
F_TOP_A = [716.6, 714, 706, 928.6, 922, 920]
F_GREY = [782.4, 782.4, 782.4, 1009, 982, 980]
F_BR = [(274.4,349,770), (534,607,770), (798.5,873,770), (274.4,349,994.4), (535,609.6,970.4), (798.5,873,966.3)]
F_SIGY = [762, 762, 756.5, 981, 962, 956]
F_NAME = [(221,841.6), (482,841.6), (737.7,841.6), (222,1074.7), (481,1084), (745,957)]
for k in range(6):
    r, c = k // 3, k % 3
    top, bot = F_Y[r]
    x0 = F_X[c]
    low = r == 1
    a = axes(x0, x0 + 179.2, top, bot, [-10, 15.1], F_YR[k], [-10, 0, 15] if low else None, ["-10", "0", "15"] if low else None,
             F_YT[k], [f"{v:.1f}" for v in F_YT[k]], xw=3, ys=11, yminor=F_YM[k], mlen=16)
    up = [m + s for m, s in zip(F_MEAN[k], F_SEM[k])]
    lo = [m - s for m, s in zip(F_MEAN[k], F_SEM[k])]
    xid = a["xaxis"]
    g = F_GREY[k]
    for xa, xb in ((0, 4.2), (10.7, 15)):
        shapes.append(dict(type="rect", xref=xid, yref="paper", x0=xa, x1=xb, y0=1 - (bot - 1) / H, y1=1 - g / H,
                           fillcolor="#f0f0f0", line=dict(width=0), layer="below"))
    band(a, LAPS, up, lo, f"rgba({RGB[k]},0.45)")
    ln(a, LAPS, F_MEAN[k], LINE[k], 2.2)
    zero = x0 + 10 * 7.17
    path(f"M {zero} {top + 9} L {zero} {bot - 8}", "black", 2, dash="6px,4px")
    T(x0 + 37, F_TOP_A[k], "A2", 26, GREY)
    T(x0 + 130.5, F_TOP_A[k], "B", 26, GREEN)
    b0, b1, by = F_BR[k]
    bracket(b0, b1, by)
    ns = F_SIG[k] == "ns"
    T((b0 + b1) / 2, F_SIGY[k] + (-3 if ns else 3), F_SIG[k], 22 if ns else 26)
    nx, ny = F_NAME[k]
    T(nx, ny, CELLS[k], 22, LINE[k])
T(745, 984, "NGFC", 22, LINE[5])
T(83, 913, "Lap average Δ<i>F</i>/<i>F</i>", 31, angle=-90)
T(534, 1186, "Laps", 31)

# ---------------- G
ag = axes(1071.8, 1251.3, 683.7, 872.3, [-10, 15], [14.84, 67.4], [-10, 0, 15], ["-10", "0", "15"], [20, 40, 60], ["20", "40", "60"], xlen=8, xw=3, xs=-13, ys=11)
for t in (G_T1, G_T2, G_T3, G_T4):
    ln(ag, LAPS, t, "rgba(190,190,190,0.5)", 2)
band(ag, LAPS, [m + s for m, s in zip(G_MEAN, G_SEM)], [m - s for m, s in zip(G_MEAN, G_SEM)], "rgba(120,120,120,0.42)")
ln(ag, LAPS, G_MEAN, "black", 2.5)
path("M 1145.3 692 L 1145.3 864", "black", 1.5, dash="6px,4px")
T(1108, 681, "A2", 26, GREY); T(1201, 681, "B", 26, GREEN)
T(1194, 915.6, "Laps", 31)
T(977, 901, "Velocity (cm/s)", 32, angle=-90)
ah = axes(1071, 1251, 950.8, 1119.8, [-.53, 2.58], [0, 64.5], [0, 1, 2], ["A2", "B", "B"], [0, 20, 40, 60], ["0", "20", "40", "60"], ys=11)
fig.add_trace(go.Bar(**ah, x=[0, 1, 2], y=G_BAR, width=.8, marker=dict(color="#bdbdbd", line=dict(width=0)), hoverinfo="skip"))
for m in G_MICE:
    ln(ah, [0, 1, 2], m, "rgba(165,165,165,0.9)", 2)
fig.add_trace(go.Scatter(**ah, x=[0, 1, 2], y=G_BAR_MEAN, mode="lines", cliponaxis=False, hoverinfo="skip", line=dict(color="black", width=2.5),
                         error_y=dict(type="data", array=G_BAR_ERR, color="black", thickness=2, width=0)))
path("M 1101.7 972 L 1217.5 972", "black", 2.5)
T(1160, 954.5, "ns", 26)
T(1101.7, 1184, "1−10", 19); T(1159.6, 1193, "1−5", 19); T(1217.5, 1179, "10−15", 19)

# ---------------- H
ai = axes(1482.3, 1916, 712.9, 1127.6, [-.486, 5.52], [-.8086, .75], list(range(6)), CELLS, [-.75, -.5, -.25, 0, .25, .5, .75],
          ["−0.75", "−0.50", "−0.25", "0.00", "0.25", "0.50", "0.75"])
H_ALL = [H_PVBC, H_SOMC, H_BIC, H_AAC, H_CCKC, H_IVC]
for i in range(6):
    box(ai, i, H_STATS[i], .45, COL[i], lw=2.2, ww=1)
for i in range(6):
    x, y = swarm([v / 100 for v in H_ALL[i]], i, 72.2, 266.4, 10, 29)
    pts(ai, x, y, 8.5, PT)
    pts(ai, [i] * len(H_BLACK[i]), H_BLACK[i], 10, "black")
path("M 1517.4 720.6 L 1517.4 709.5 L 1878.5 709.5 L 1878.5 699", "black", 2)
for xx in (1589.7, 1734):
    path(f"M {xx} 709.5 L {xx} 720.6", "black", 2)
for t, x, y, s in [("*",1517,738,26),("*",1517,833,26),("***",1590,738,26),("***",1592,806,26),("**",1662,820,26),("*",1735,738,26),("**",1736,860,26),("ns",1806,846,26),("ns",1877,819,26)]:
    T(x, y, t, s)
T(1878.5, 1197, "NGFC", 26.5)
T(1349, 921, "Δ(B<sub>1 − 5</sub>, A2<sub>1 − 10</sub>)", 30, angle=-90, fam="DejaVu Sans")

# ---------------- I
I_X = [180.5, 322.5, 464.5, 605, 747.8, 889]
first = None
for k in range(6):
    x0 = I_X[k]
    a = axes(x0, x0 + 118, 1310.6, 1773.9, [-.75, .75], [-400, 10], [-.75, 0, .75], ["-0.75", "0", "0.75"] if k == 2 else None,
             [-400, -300, -200, -100, 0], ["−400", "−300", "−200", "−100", "0"] if k == 0 else None, xlen=9, ylen=9, ys=-2, xs=-9)
    first = first or a
    band(a, I_CI_X[k], I_CI_UP[k], I_CI_LO[k], f"rgba({RGB[k]},0.15)")
    pts(a, [p[0] / 100 for p in I_POINTS[k]], [p[1] for p in I_POINTS[k]], 9.5, f"rgba({RGB[k]},0.95)")
    ln(a, I_FIT_X[k], I_FIT_Y[k], "black", 3.5)
    T(240 + k * 141.6, 1246.5, I_STATS[k][0], 27)
    T(244 + k * 141.6, 1274, I_STATS[k][1], 27)
for d in LAYER_DEPTHS:
    shapes.append(dict(type="line", xref="paper", yref=first["yaxis"], x0=180.5 / W, x1=1007 / W, y0=d, y1=d,
                       line=dict(color="black", width=2, dash="6px,4px"), layer="above"))
T(1024, 1395.5, "<i>s.o</i>", 24); T(1024, 1444.5, "<i>s.p</i>", 24); T(1022, 1534, "<i>s.r</i>", 24)
T(71, 1542, "Depth <i>μ</i>m", 32, angle=-90)
T(522.6, 1844.5, "Δ(B<sub>1 − 5</sub>, A2<sub>1 − 10</sub>)", 33)

# ---------------- J
aj = axes(1243.3, 1470.7, 1310.6, 1773.9, [-.797, .802], [-400, 10], [-.75, 0, .75], ["-0.75", "0", "0.75"],
          [-400, -300, -200, -100, 0], ["−400", "−300", "−200", "−100", "0"], xlen=9, ylen=9, ys=-2, xs=-9, yw=2.5)
band(aj, J_CI_X, J_CI_UP, J_CI_LO, "rgba(0,0,0,0.16)")
J_ALL = [p for g in I_POINTS for p in g] + J_OUTER + J_CORE + J_MID
pts(aj, [p[0] / 100 for p in J_ALL], [p[1] for p in J_ALL], 9, "rgba(20,20,20,0.88)")
ln(aj, J_FIT_X, J_FIT_Y, "black", 3)
for d in LAYER_DEPTHS:
    shapes.append(dict(type="line", xref=aj["xaxis"], yref=aj["yaxis"], x0=-.797, x1=.755, y0=d, y1=d,
                       line=dict(color="#fe0000", width=1.5, dash="6px,4px"), layer="above"))
ao = axes(1243.3, 1470.7, 1310.6, 1773.9, [-.797, .802], [-400, 10], visible=False)
for d, st in zip(J_BOX_Y, J_BOX):
    box(ao, d, st, 22, "rgba(0,0,0,0)", lw=3.5, line="#fe0000", ww=.8, horiz=True)
path("M 1472.7 1373 L 1486.7 1373 L 1486.7 1448.6 L 1472.7 1448.6", "#fe0000", 2)
path("M 1495.7 1448.6 L 1509 1448.6 L 1509 1560.8 L 1495.7 1560.8", "#fe0000", 2)
path("M 1522.3 1373 L 1535.7 1373 L 1535.7 1560.8 L 1522.3 1560.8", "#fe0000", 2)
T(1503.3, 1411, "ns", 26, angle=90)
T(1522, 1505.7, "***", 26, angle=90)
T(1554, 1467, "***", 26, angle=90)
T(1356.7, 1246.5, "R=-0.09", 27); T(1360.7, 1274, "P=0.02", 27)
T(1132.7, 1542, "Depth <i>μ</i>m", 32, angle=-90)
T(1357.5, 1844.5, "Δ(B<sub>1 − 5</sub>, A2<sub>1 − 10</sub>)", 29, fam="DejaVu Sans")

fig.update_layout(width=W, height=H, margin=dict(l=0, r=0, t=0, b=0, pad=0), autosize=False, paper_bgcolor="white",
                  plot_bgcolor="rgba(0,0,0,0)", showlegend=False, boxmode="overlay", barmode="overlay",
                  font=dict(family=FONT), shapes=shapes, annotations=notes, **layout)
fig.write_html("out.html", config=dict(displayModeBar=False), post_script="document.body.style.margin='0';")
